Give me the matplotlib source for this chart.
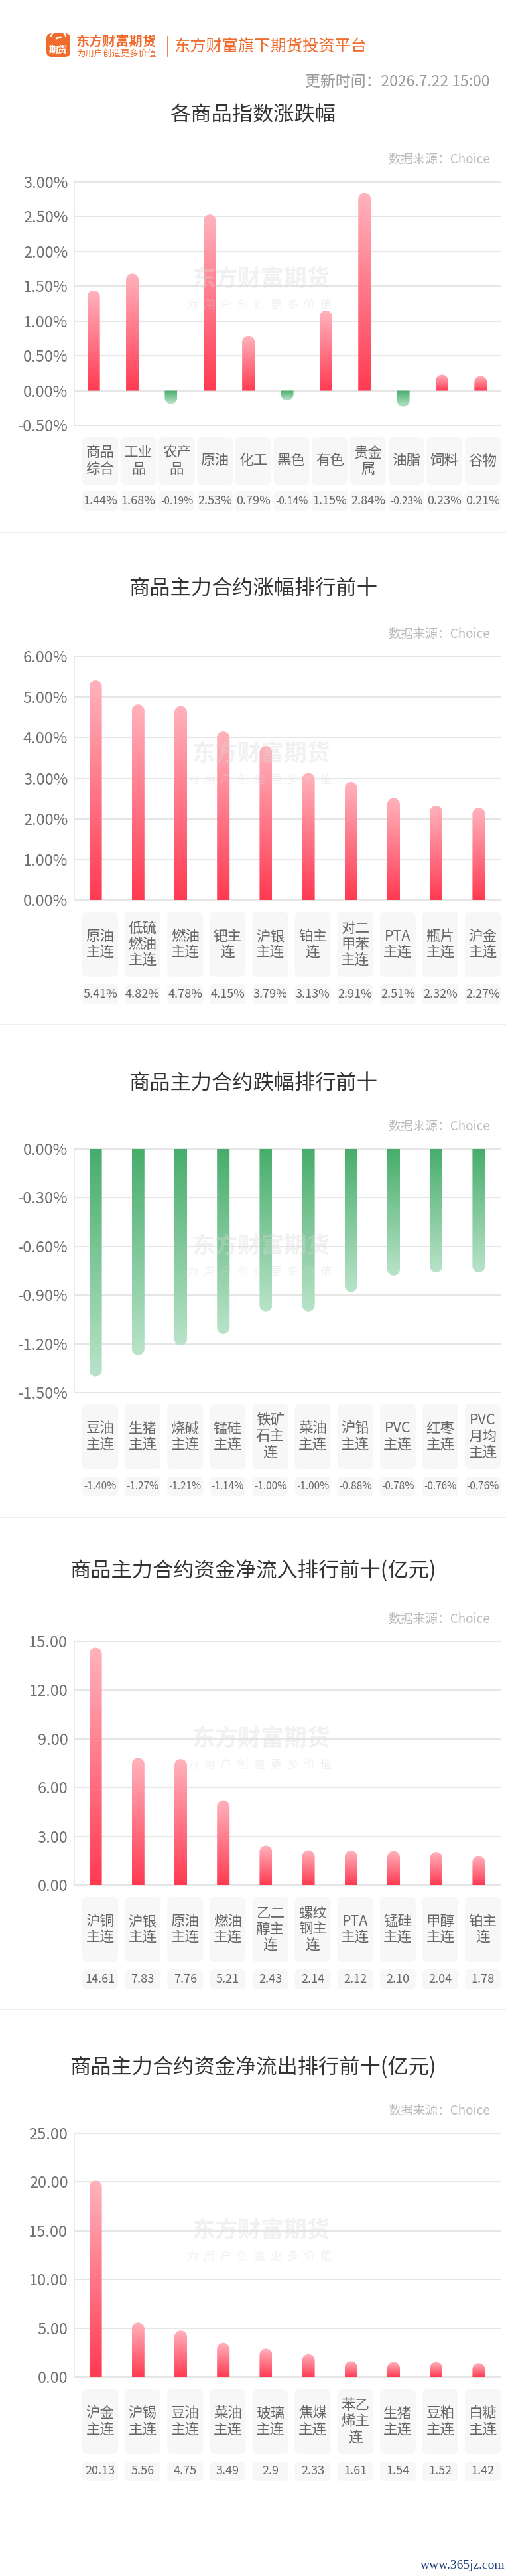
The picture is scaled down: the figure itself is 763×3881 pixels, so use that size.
import re
import numpy as np
import matplotlib
matplotlib.use('Agg')
import matplotlib.pyplot as plt
from matplotlib.patches import FancyBboxPatch, Polygon, Arc
from matplotlib.colors import LinearSegmentedColormap
from matplotlib.ticker import FuncFormatter

plt.rcParams['font.family'] = ['Noto Sans CJK SC', 'DejaVu Sans']

# ---------------- 数据 ----------------
idx_names = ['商品综合', '工业品', '农产品', '原油', '化工', '黑色', '有色', '贵金属', '油脂', '饲料', '谷物']
idx_pct = [1.44, 1.68, -0.19, 2.53, 0.79, -0.14, 1.15, 2.84, -0.23, 0.23, 0.21]

up_names = ['原油主连', '低硫燃油主连', '燃油主连', '钯主连', '沪银主连', '铂主连', '对二甲苯主连', 'PTA主连', '瓶片主连', '沪金主连']
up_pct = [5.41, 4.82, 4.78, 4.15, 3.79, 3.13, 2.91, 2.51, 2.32, 2.27]

down_names = ['豆油主连', '生猪主连', '烧碱主连', '锰硅主连', '铁矿石主连', '菜油主连', '沪铅主连', 'PVC主连', '红枣主连', 'PVC月均主连']
down_pct = [-1.40, -1.27, -1.21, -1.14, -1.00, -1.00, -0.88, -0.78, -0.76, -0.76]

in_names = ['沪铜主连', '沪银主连', '原油主连', '燃油主连', '乙二醇主连', '螺纹钢主连', 'PTA主连', '锰硅主连', '甲醇主连', '铂主连']
in_raw = ['14.61', '7.83', '7.76', '5.21', '2.43', '2.14', '2.12', '2.10', '2.04', '1.78']
in_val = [float(s) for s in in_raw]

out_names = ['沪金主连', '沪锡主连', '豆油主连', '菜油主连', '玻璃主连', '焦煤主连', '苯乙烯主连', '生猪主连', '豆粕主连', '白糖主连']
out_raw = ['20.13', '5.56', '4.75', '3.49', '2.9', '2.33', '1.61', '1.54', '1.52', '1.42']
out_val = [float(s) for s in out_raw]

W, H = 763, 3881
ORANGE = '#ef6b2e'
RED_BASE, RED_TIP = '#ff3a52', '#ffb3bd'
GREEN_BASE, GREEN_TIP = '#47ad6b', '#b9e3c9'
GRID = '#e6e6e6'

fig = plt.figure(figsize=(W / 100, H / 100), dpi=100)
bg = fig.add_axes([0, 0, 1, 1], zorder=0)
bg.set_xlim(0, W)
bg.set_ylim(H, 0)
bg.axis('off')

# 水印放在最上层，半透明
top = fig.add_axes([0, 0, 1, 1], zorder=5)
top.set_xlim(0, W)
top.set_ylim(H, 0)
top.axis('off')
top.set_facecolor('none')

AX_X0, AX_X1 = 112, 754
BAR_PX = 19


def px_axes(y0, y1):
    return fig.add_axes([AX_X0 / W, 1 - y1 / H, (AX_X1 - AX_X0) / W, (y1 - y0) / H], zorder=2)


def wrap(name):
    # 每行最多两个汉字，英文连写算一块
    lines, cur, wcur = [], '', 0
    for t in re.findall(r'[A-Za-z]+|.', name):
        tw = 1.6 if t.isascii() else 1
        if wcur + tw > 2 and cur:
            lines.append(cur)
            cur, wcur = '', 0
        cur += t
        wcur += tw
    lines.append(cur)
    return '\n'.join(lines)


def draw_bars(ax, vals, ylim, ticks, fmt, px_h):
    n = len(vals)
    slot = (AX_X1 - AX_X0) / n
    w = BAR_PX / slot
    ry = (BAR_PX / 2) / (px_h / (ylim[1] - ylim[0]))
    grad = np.linspace(0, 1, 256).reshape(-1, 1)
    red = LinearSegmentedColormap.from_list('r', [RED_BASE, RED_TIP])
    green = LinearSegmentedColormap.from_list('g', [GREEN_BASE, GREEN_TIP])
    for i, v in enumerate(vals):
        s = 1 if v >= 0 else -1
        cy = v - s * ry
        t = np.linspace(np.pi, 0, 40)
        xs = i + (w / 2) * np.cos(t)
        ys = cy + s * ry * np.sin(t)
        verts = [(i - w / 2, 0)] + list(zip(xs, ys)) + [(i + w / 2, 0)]
        poly = Polygon(verts, closed=True, fc='none', ec='none')
        ax.add_patch(poly)
        im = ax.imshow(grad, cmap=red if v >= 0 else green, extent=(i - w / 2, i + w / 2, 0, v),
                       origin='lower', aspect='auto', interpolation='bilinear', zorder=3)
        im.set_clip_path(poly)
    ax.set_xlim(-0.5, n - 0.5)
    ax.set_ylim(*ylim)
    ax.set_facecolor('none')
    for sp in ['top', 'right', 'bottom']:
        ax.spines[sp].set_visible(False)
    ax.spines['left'].set_color(GRID)
    ax.spines['left'].set_linewidth(1.2)
    ax.set_xticks([])
    ax.set_yticks(ticks)
    ax.yaxis.set_major_formatter(FuncFormatter(fmt))
    ax.tick_params(axis='y', length=0, pad=7, labelsize=17, labelcolor='#707070')
    ax.grid(axis='y', color=GRID, lw=1.5)
    for gl in ax.get_ygridlines():
        gl.set_clip_on(False)
    ax.set_axisbelow(True)


def draw_cells(names, texts, lab_y, val_y):
    n = len(names)
    cw = 54
    pitch = (755 - 124 - cw) / (n - 1)
    for i in range(n):
        x = 124 + i * pitch
        bg.add_patch(FancyBboxPatch((x, lab_y[0]), cw, lab_y[1] - lab_y[0],
                                    boxstyle='round,pad=0,rounding_size=7', fc='#f7f7f7', ec='none'))
        bg.text(x + cw / 2, (lab_y[0] + lab_y[1]) / 2, wrap(names[i]), ha='center', va='center',
                fontsize=15.5, color='#666666', linespacing=1.12)
        bg.add_patch(FancyBboxPatch((x, val_y[0]), cw, val_y[1] - val_y[0],
                                    boxstyle='round,pad=0,rounding_size=7', fc='#f7f7f7', ec='none'))
        s = texts[i]
        bg.text(x + cw / 2, (val_y[0] + val_y[1]) / 2, s, ha='center', va='center',
                fontsize=13 if len(s) <= 5 else 11, color='#666666')


def chart(title, title_y, vals, texts, names, ylim, ticks, fmt, ax_top, lab_y, val_y, sep_y):
    bg.text(W / 2, title_y, title, ha='center', va='center', fontsize=22.5, color='#333333')
    bg.text(739, ax_top - 34, '数据来源：Choice', ha='right', va='center', fontsize=13.5, color='#bbbbbb')
    # 水印
    top.text(394, ax_top + 146, '东方财富期货', ha='center', va='center', fontsize=25,
             fontweight='bold', color='#d8d8d8', alpha=0.35)
    top.text(391, ax_top + 186, '  '.join('为用户创造更多价值'), ha='center', va='center',
             fontsize=12.5, color='#d8d8d8', alpha=0.35)
    ax_bot = ax_top + 367
    ax = px_axes(ax_top, ax_bot)
    draw_bars(ax, vals, ylim, ticks, fmt, ax_bot - ax_top)
    draw_cells(names, texts, lab_y, val_y)
    if sep_y is not None:
        bg.plot([0, W], [sep_y, sep_y], color='#eeeeee', lw=1.5)


pct = lambda v, p: f'{v:.2f}%'
num = lambda v, p: f'{v:.2f}'

# ---------------- 页眉 ----------------
bg.add_patch(FancyBboxPatch((70, 50), 36, 36, boxstyle='round,pad=0,rounding_size=8', fc=ORANGE, ec='none'))
bg.add_patch(Arc((88, 55), 22, 16, theta1=180, theta2=360, color='white', lw=1.6))
bg.plot([85, 91], [58, 56], color='white', lw=2)
bg.text(88, 76, '期货', ha='center', va='center', fontsize=10, fontweight='bold', color='white')
bg.text(115, 62, '东方财富期货', ha='left', va='center', fontsize=14.5, fontweight='bold', color=ORANGE)
bg.text(115, 81, '为用户创造更多价值', ha='left', va='center', fontsize=9.6, color=ORANGE)
bg.plot([253, 253], [55, 85], color=ORANGE, lw=1.2)
bg.text(262, 71, '东方财富旗下期货投资平台', ha='left', va='center', fontsize=17.5, color=ORANGE)
bg.text(739, 123, '更新时间：2026.7.22 15:00', ha='right', va='center', fontsize=16.5, color='#9a9a9a')

# ---------------- 五个图 ----------------
chart('各商品指数涨跌幅', 173, idx_pct, [f'{v:.2f}%' for v in idx_pct], idx_names,
      (-0.5, 3.0), np.arange(-0.5, 3.01, 0.5), pct, 274, (659, 730), (740, 770), 802)

chart('商品主力合约涨幅排行前十', 888, up_pct, [f'{v:.2f}%' for v in up_pct], up_names,
      (0, 6), np.arange(0, 6.01, 1), pct, 989, (1374, 1472), (1483, 1513), 1544)

chart('商品主力合约跌幅排行前十', 1632, down_pct, [f'{v:.2f}%' for v in down_pct], down_names,
      (-1.5, 0), np.arange(-1.5, 0.01, 0.3), pct, 1731, (2116, 2213), (2225, 2254), 2286)

chart('商品主力合约资金净流入排行前十(亿元)', 2367, in_val, in_raw, in_names,
      (0, 15), np.arange(0, 15.01, 3), num, 2473, (2858, 2956), (2967, 2997), 3028)

chart('商品主力合约资金净流出排行前十(亿元)', 3115, out_val, out_raw, out_names,
      (0, 25), np.arange(0, 25.01, 5), num, 3214, (3600, 3697), (3709, 3738), None)

bg.text(762, 3865, 'www.365jz.com', ha='right', va='center', fontsize=14,
        family='Liberation Serif', color='#1d3b78')

fig.savefig('out.png', dpi=100, facecolor='white')
